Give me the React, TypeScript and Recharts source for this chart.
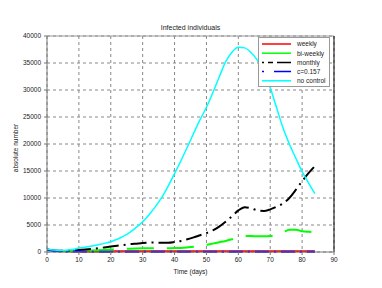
import {
  LineChart,
  Line,
  XAxis,
  YAxis,
  CartesianGrid,
  ReferenceLine,
} from 'recharts';

const days = [
  0, 2, 4, 6, 8, 10, 12, 14, 16, 18, 20, 22, 24, 26, 28, 30, 32, 34, 36, 38, 40, 42,
  44, 46, 48, 50, 52, 54, 56, 58, 60, 62, 64, 66, 68, 70, 72, 74, 76, 78, 80, 82, 84,
];

const weekly = [
  400, 230, 160, 130, 115, 110, 110, 110, 110, 115, 115, 120, 120, 120, 125, 125, 125, 125,
  130, 130, 130, 130, 135, 135, 135, 135, 140, 140, 140, 140, 140, 140, 140, 140, 140, 140,
  140, 140, 140, 140, 140, 140, 140,
];

const biWeekly = [
  420, 260, 200, 190, 210, 240, 270, 300, 340, 390, 440, 500, 560, 620, 660, 680, 690, 680,
  680, 700, 720, 760, 850, 960, 1120, 1300, 1550, 1800, 2050, 2350, 2700, 2950, 2950, 2900,
  2900, 2950, 3150, 3600, 4100, 4100, 3850, 3750, 3700,
];

const monthly = [
  450, 300, 230, 230, 280, 370, 460, 570, 700, 850, 1000, 1150, 1300, 1450, 1550, 1650, 1720,
  1750, 1720, 1720, 1850, 2050, 2350, 2700, 3100, 3500, 4000, 4700, 5600, 6600, 7700, 8300,
  8100, 7700, 7600, 7900, 8400, 9000, 10000, 11500, 13100, 14600, 15900,
];

const cFixed = [
  400, 220, 140, 100, 80, 70, 65, 60, 60, 55, 55, 55, 55, 55, 55, 55, 55, 55, 55, 55, 55, 55,
  55, 55, 55, 55, 55, 55, 55, 55, 55, 55, 55, 55, 55, 55, 55, 55, 55, 55, 55, 55, 55,
];

const noControl = [
  500, 350, 290, 320, 480, 720, 900, 1100, 1350, 1600, 1900, 2350, 2950, 3650, 4550, 5600,
  6900, 8400, 10100, 12200, 14500, 16900, 19400, 22000, 24500, 26800, 29500, 32400, 35200,
  37000, 37900, 37800, 36900, 35500, 33200, 30400, 26700, 23000, 20000, 17400, 14900, 12800,
  10800,
];

const xTicks = [0, 10, 20, 30, 40, 50, 60, 70, 80, 90];
const yTicks = [0, 5000, 10000, 15000, 20000, 25000, 30000, 35000, 40000];

const data = days.map((day, i) => ({
  day,
  weekly: weekly[i],
  biWeekly: biWeekly[i],
  monthly: monthly[i],
  cFixed: cFixed[i],
  noControl: noControl[i],
}));

const series = [
  { key: 'weekly', name: 'weekly', color: '#ff0000', dash: undefined, width: 2 },
  { key: 'biWeekly', name: 'bi-weekly', color: '#00ff00', dash: '27 13', width: 2 },
  { key: 'monthly', name: 'monthly', color: '#000000', dash: '16 5 2 5', width: 2 },
  { key: 'cFixed', name: 'c=0.157', color: '#0000ff', dash: '14 5 2 5', width: 2 },
  { key: 'noControl', name: 'no control', color: '#00ffff', dash: undefined, width: 1.5 },
];

const font = '"Liberation Sans", Arial, sans-serif';

function YLabel(props: any) {
  const vb = props.viewBox || { x: 0, y: 36, height: 216 };
  const cy = vb.y + vb.height / 2 + 4;
  return (
    <text
      x={15}
      y={cy}
      transform={`rotate(-90 15 ${cy})`}
      textAnchor="middle"
      dominantBaseline="central"
      fontSize={6.5}
      fill="#222"
      fontFamily={font}
    >
      absolute number
    </text>
  );
}

function LegendBox() {
  return (
    <div
      style={{
        position: 'absolute',
        left: 258,
        top: 37,
        width: 72,
        height: 50,
        border: '1px solid #999',
        background: '#fff',
        boxSizing: 'border-box',
      }}
    >
      <svg width={70} height={48} style={{ display: 'block' }}>
        {series.map((s, i) => {
          const y = 6 + i * 9.2;
          return (
            <g key={s.key}>
              <line
                x1={3}
                x2={32}
                y1={y}
                y2={y}
                stroke={s.color}
                strokeWidth={1.5}
                strokeDasharray={s.key === 'monthly' ? '2 4 5 4 14' : s.key === 'cFixed' ? '2 10 17' : undefined}
              />
              <text x={38} y={y + 2.3} fontSize={6.5} fill="#222" fontFamily={font}>
                {s.name}
              </text>
            </g>
          );
        })}
      </svg>
    </div>
  );
}

export default function App() {
  return (
    <div
      style={{
        position: 'absolute',
        left: 0,
        top: 0,
        width: 382,
        height: 288,
        background: '#fff',
        fontFamily: font,
      }}
    >
      <div
        style={{
          position: 'absolute',
          left: 47,
          top: 24,
          width: 287,
          textAlign: 'center',
          fontSize: 7,
          lineHeight: '8px',
          color: '#222',
        }}
      >
        Infected individuals
      </div>
      <LineChart
        width={382}
        height={288}
        data={data}
        margin={{ top: 36, right: 48, bottom: 12, left: 15 }}
      >
        <CartesianGrid stroke="#888" strokeDasharray="3 3" />
        <XAxis
          dataKey="day"
          type="number"
          domain={[0, 90]}
          ticks={xTicks}
          height={24}
          tickSize={3}
          tickMargin={2}
          tick={{ fontSize: 6.5, fill: '#222', fontFamily: font }}
          stroke="#777"
          label={{
            value: 'Time (days)',
            position: 'insideBottom',
            offset: 2,
            fontSize: 6.5,
            fill: '#222',
            fontFamily: font,
          }}
        />
        <YAxis
          type="number"
          domain={[0, 40000]}
          ticks={yTicks}
          width={32}
          tickSize={3}
          tickMargin={3}
          tick={{ fontSize: 6.5, fill: '#222', fontFamily: font }}
          stroke="#777"
          label={YLabel}
        />
        <ReferenceLine y={40000} stroke="#999" strokeWidth={1} />
        <ReferenceLine x={90} stroke="#000" strokeWidth={1} />
        {series.map((s) => (
          <Line
            key={s.key}
            dataKey={s.key}
            name={s.name}
            type="monotone"
            stroke={s.color}
            strokeWidth={s.width}
            strokeDasharray={s.dash}
            dot={false}
            isAnimationActive={false}
          />
        ))}
      </LineChart>
      <LegendBox />
    </div>
  );
}
